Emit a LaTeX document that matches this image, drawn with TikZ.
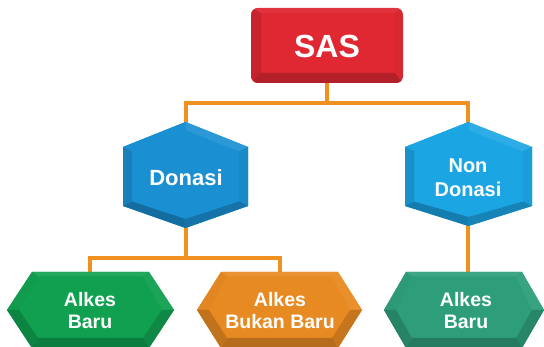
\documentclass[tikz,border=0pt]{standalone}
\usepackage{fontspec}
\setmainfont{Liberation Sans}
\definecolor{lineor}{HTML}{F0901E}
\definecolor{sasred}{HTML}{E02833}
\definecolor{donblue}{HTML}{1A90D3}
\definecolor{ndblue}{HTML}{1BA5E3}
\definecolor{grn}{HTML}{10A050}
\definecolor{orng}{HTML}{E88A22}
\definecolor{teal}{HTML}{2E9E7A}
% pointy-top hexagon: cx cy hw ht s hb d color
\newcommand\phexshape[8]{%
\coordinate (o1) at ({#1},{#2-#4});
\coordinate (o2) at ({#1+#3},{#2-#5});
\coordinate (o3) at ({#1+#3},{#2+#5});
\coordinate (o4) at ({#1},{#2+#6});
\coordinate (o5) at ({#1-#3},{#2+#5});
\coordinate (o6) at ({#1-#3},{#2-#5});
\coordinate (i1) at ({#1},{#2-#4+0.9*#7});
\coordinate (i2) at ({#1+#3-#7},{#2-#5+0.5*#7});
\coordinate (i3) at ({#1+#3-#7},{#2+#5-0.5*#7});
\coordinate (i4) at ({#1},{#2+#6-#7});
\coordinate (i5) at ({#1-#3+#7},{#2+#5-0.5*#7});
\coordinate (i6) at ({#1-#3+#7},{#2-#5+0.5*#7});
\fill[#8] (o1)--(o2)--(o3)--(o4)--(o5)--(o6)--cycle;
\fill[#8!92!white] (o1)--(o2)--(i2)--(i1)--cycle;
\fill[#8] (o6)--(o1)--(i1)--(i6)--cycle;
\fill[#8!95!black] (o2)--(o3)--(i3)--(i2)--cycle;
\fill[#8!80!black] (o3)--(o4)--(i4)--(i3)--cycle;
\fill[#8!76!black] (o4)--(o5)--(i5)--(i4)--cycle;
\fill[#8!88!black] (o5)--(o6)--(i6)--(i5)--cycle;
}
% flat hexagon (pointed left/right): cx cy hw hh t d color
\newcommand\fhexshape[7]{%
\coordinate (o1) at ({#1-#3},{#2});
\coordinate (o2) at ({#1-#3+#5},{#2-#4});
\coordinate (o3) at ({#1+#3-#5},{#2-#4});
\coordinate (o4) at ({#1+#3},{#2});
\coordinate (o5) at ({#1+#3-#5},{#2+#4});
\coordinate (o6) at ({#1-#3+#5},{#2+#4});
\coordinate (i1) at ({#1-#3+1.2*#6},{#2});
\coordinate (i2) at ({#1-#3+#5+0.6*#6},{#2-#4+0.45*#6});
\coordinate (i3) at ({#1+#3-#5-0.6*#6},{#2-#4+0.45*#6});
\coordinate (i4) at ({#1+#3-1.2*#6},{#2});
\coordinate (i5) at ({#1+#3-#5-0.6*#6},{#2+#4-#6});
\coordinate (i6) at ({#1-#3+#5+0.6*#6},{#2+#4-#6});
\fill[#7] (o1)--(o2)--(o3)--(o4)--(o5)--(o6)--cycle;
\fill[#7!92!white] (o2)--(o3)--(i3)--(i2)--cycle;
\fill[#7!97!black] (o1)--(o2)--(i2)--(i1)--cycle;
\fill[#7!95!white] (o3)--(o4)--(i4)--(i3)--cycle;
\fill[#7!85!black] (o4)--(o5)--(i5)--(i4)--cycle;
\fill[#7!78!black] (o5)--(o6)--(i6)--(i5)--cycle;
\fill[#7!83!black] (o6)--(o1)--(i1)--(i6)--cycle;
}
\tikzset{
  conn/.style={draw=lineor, line width=4pt},
  lbl/.style={text=white, font=\bfseries, align=center, inner sep=0pt},
}
\begin{document}
\begin{tikzpicture}[x=1pt,y=-1pt]
\useasboundingbox (0,0) rectangle (544,347);
% connector anchor points
\coordinate (sasB) at (327,80);
\coordinate (j1) at (327,103);
\coordinate (donT) at (186,125);
\coordinate (ndT) at (468,125);
\coordinate (donB) at (186,225);
\coordinate (j2) at (186,258);
\coordinate (ndB) at (468,222);
\coordinate (g1T) at (90,276);
\coordinate (o1T) at (280,276);
\coordinate (t1T) at (468,276);
% connectors
\draw[conn] (sasB) -- (j1);
\draw[conn] (donT) |- (j1) -| (ndT);
\draw[conn] (donB) -- (j2);
\draw[conn] (g1T) |- (j2) -| (o1T);
\draw[conn] (ndB) -- (t1T);
% SAS box
\begin{scope}
\clip[rounded corners=7pt] (251,8) rectangle (403,83);
\fill[sasred] (251,8) rectangle (403,83);
\fill[sasred!95!white] (251,8) -- (403,8) -- (395,13) -- (261,13) -- cycle;
\fill[sasred!88!black] (251,8) -- (261,13) -- (261,73) -- (251,83) -- cycle;
\fill[sasred!80!black] (251,83) -- (261,73) -- (395,73) -- (403,83) -- cycle;
\fill[sasred!96!black] (403,8) -- (395,13) -- (395,73) -- (403,83) -- cycle;
\end{scope}
\node[lbl, font=\bfseries\fontsize{32}{36}\selectfont] (sas) at (327,46) {SAS};
% Donasi / Non Donasi
\phexshape{185.5}{176.5}{62.5}{54.5}{29.5}{51.5}{9}{donblue}
\node[lbl, font=\bfseries\fontsize{22}{26}\selectfont] (don) at (186,177.5) {Donasi};
\phexshape{468.5}{176.5}{63.5}{54.5}{29.5}{49.5}{9}{ndblue}
\node[lbl, font=\bfseries\fontsize{20}{24}\selectfont] (nd) at (468,177.5) {Non\\Donasi};
% bottom row
\fhexshape{90.5}{310}{83.5}{38}{25}{10}{grn}
\node[lbl, font=\bfseries\fontsize{19.5}{22}\selectfont] (ab1) at (90,311) {Alkes\\Baru};
\fhexshape{279.5}{310}{82.5}{38}{24}{10}{orng}
\node[lbl, font=\bfseries\fontsize{19.5}{22}\selectfont] (abb) at (280,311) {Alkes\\Bukan Baru};
\fhexshape{464}{310}{80}{38}{22}{10}{teal}
\node[lbl, font=\bfseries\fontsize{19.5}{22}\selectfont] (ab2) at (466,311) {Alkes\\Baru};
\end{tikzpicture}
\end{document}
